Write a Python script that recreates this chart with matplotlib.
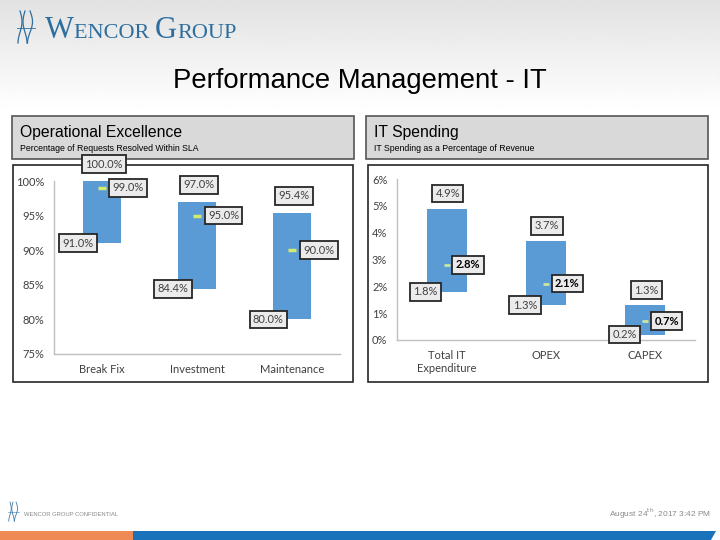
import numpy as np
import matplotlib.pyplot as plt
from matplotlib.patches import Rectangle, Polygon
from matplotlib.ticker import PercentFormatter

# Data
ops_cats = ["Break Fix", "Investment", "Maintenance"]
ops_low = [91.0, 84.4, 80.0]
ops_high = [100.0, 97.0, 95.4]
ops_mid = [99.0, 95.0, 90.0]

it_cats = ["Total IT\nExpenditure", "OPEX", "CAPEX"]
it_low = [1.8, 1.3, 0.2]
it_high = [4.9, 3.7, 1.3]
it_mid = [2.8, 2.1, 0.7]

BLUE = "#5b9bd5"
MARK = "#d2ea6e"
TXT = "#404040"
CHART_FONT = "Lato"
HEAD_FONT = "Liberation Sans"

fig = plt.figure(figsize=(7.2, 5.4), dpi=100)

# background layer in pixel coordinates (y down)
bg = fig.add_axes([0, 0, 1, 1], zorder=0)
bg.set_xlim(0, 720)
bg.set_ylim(540, 0)
bg.axis("off")
grad = np.clip(0.885 + (1 - 0.885) * np.arange(540) / 110, 0, 1)
bg.imshow(np.repeat(grad[:, None], 2, axis=1), cmap="gray", vmin=0, vmax=1,
          extent=(0, 720, 540, 0), aspect="auto", interpolation="bilinear")

# header boxes and chart frames
for x0 in (12, 366):
    bg.add_patch(Rectangle((x0, 116), 342, 43, fc="#d9d9d9", ec="#555555", lw=1.2))
for x0 in (13, 368):
    bg.add_patch(Rectangle((x0, 165), 340, 217, fc="white", ec="#262626", lw=1.2))

bg.text(360, 81, "Performance Management - IT", ha="center", va="center",
        fontsize=19.8, family=HEAD_FONT, color="black")
bg.text(20, 133, "Operational Excellence", ha="left", va="center",
        fontsize=11.3, family=HEAD_FONT, color="black")
bg.text(20, 148.5, "Percentage of Requests Resolved Within SLA", ha="left", va="center",
        fontsize=6.3, family=HEAD_FONT, color="black")
bg.text(374, 133, "IT Spending", ha="left", va="center",
        fontsize=11.3, family=HEAD_FONT, color="black")
bg.text(374, 148.5, "IT Spending as a Percentage of Revenue", ha="left", va="center",
        fontsize=6.3, family=HEAD_FONT, color="black")

# logo
LOGO = "#2d6e9e"
renderer = fig.canvas.get_renderer()
xpos = 45
for part, size in [("W", 22), ("ENCOR ", 16), ("G", 22), ("ROUP", 16)]:
    t = bg.text(xpos, 38, part, ha="left", va="baseline", fontsize=size,
                family="Liberation Serif", color=LOGO)
    bb = t.get_window_extent(renderer)
    xpos += bb.width


def glyph(x, y, s):
    # stylised mark next to the company name
    tt = np.linspace(0, 1, 30)
    for dx, amp in [(0, 2.0), (5, -2.0), (10, 2.5)]:
        bg.plot(x + dx * s + amp * s * np.sin(tt * np.pi * 1.5), y + tt * 32 * s,
                color=LOGO, lw=0.9 * s)
    bg.plot([x - 3 * s, x + 15 * s], [y + 17 * s, y + 17 * s], color=LOGO, lw=0.6 * s)


glyph(20, 11, 1.0)
glyph(10, 502, 0.6)

# footer
bg.text(24, 514, "WENCOR GROUP CONFIDENTIAL", ha="left", va="center",
        fontsize=4.2, family=HEAD_FONT, color="#8a8a8a")
bg.text(711, 514, r"August 24$^{\rm th}$, 2017 3:42 PM", ha="right", va="center",
        fontsize=6, family=HEAD_FONT, color="#8a8a8a")
bg.add_patch(Rectangle((0, 531), 133, 9, fc="#ef8a54", ec="none"))
bg.add_patch(Polygon([(133, 531), (716, 531), (711, 540), (133, 540)], fc="#1a73ba", ec="none"))


def label(ax, x, y, s, dx, dy, ha="center", bold=False):
    ax.annotate(s, (x, y), xytext=(dx, dy), textcoords="offset pixels",
                ha=ha, va="center", fontsize=8, family=CHART_FONT,
                fontweight="bold" if bold else "normal",
                color="black" if bold else TXT, annotation_clip=False, zorder=5,
                bbox=dict(boxstyle="square,pad=0.3", fc="#ebebeb", ec="#262626", lw=1.3))


def style(ax):
    ax.set_facecolor("none")
    for side in ("top", "right"):
        ax.spines[side].set_visible(False)
    for side in ("left", "bottom"):
        ax.spines[side].set_color("#bfbfbf")
        ax.spines[side].set_linewidth(1)
    ax.tick_params(length=0, labelsize=8, labelcolor=TXT, pad=7)
    for lab in ax.get_xticklabels() + ax.get_yticklabels():
        lab.set_family(CHART_FONT)
    ax.set_xlim(-0.5, 2.5)


# Operational Excellence chart
ax1 = fig.add_axes([54 / 720, (540 - 354) / 540, 286 / 720, 173 / 540], zorder=2)
x1 = np.arange(len(ops_cats))
ax1.bar(x1, np.array(ops_high) - np.array(ops_low), bottom=ops_low, width=0.4, color=BLUE)
ax1.scatter(x1, ops_mid, marker="_", s=35, color=MARK, linewidths=2.5, zorder=3)
ax1.set_ylim(75, 100)
ax1.set_yticks([75, 80, 85, 90, 95, 100])
ax1.yaxis.set_major_formatter(PercentFormatter(decimals=0))
ax1.set_xticks(x1, ops_cats)
style(ax1)
for i in range(len(ops_cats)):
    label(ax1, x1[i], ops_high[i], f"{ops_high[i]:.1f}%", 2, 17)
    label(ax1, x1[i], ops_low[i], f"{ops_low[i]:.1f}%", -24, 0)
    label(ax1, x1[i], ops_mid[i], f"{ops_mid[i]:.1f}%", 11, 0, ha="left")

# IT Spending chart
ax2 = fig.add_axes([397 / 720, (540 - 340) / 540, 298 / 720, 161 / 540], zorder=2)
x2 = np.arange(len(it_cats))
ax2.bar(x2, np.array(it_high) - np.array(it_low), bottom=it_low, width=0.4, color=BLUE)
ax2.scatter(x2, it_mid, marker="_", s=25, color="#c8e6a0", linewidths=2, zorder=3)
ax2.set_ylim(0, 6)
ax2.set_yticks(range(7))
ax2.yaxis.set_major_formatter(PercentFormatter(decimals=0))
ax2.set_xticks(x2, it_cats)
style(ax2)
for i in range(len(it_cats)):
    label(ax2, x2[i], it_high[i], f"{it_high[i]:.1f}%", 1, 15)
    label(ax2, x2[i], it_low[i], f"{it_low[i]:.1f}%", -21, 0)
    label(ax2, x2[i], it_mid[i], f"{it_mid[i]:.1f}%", 9, 0, ha="left", bold=True)

fig.savefig("out.png", dpi=100)
